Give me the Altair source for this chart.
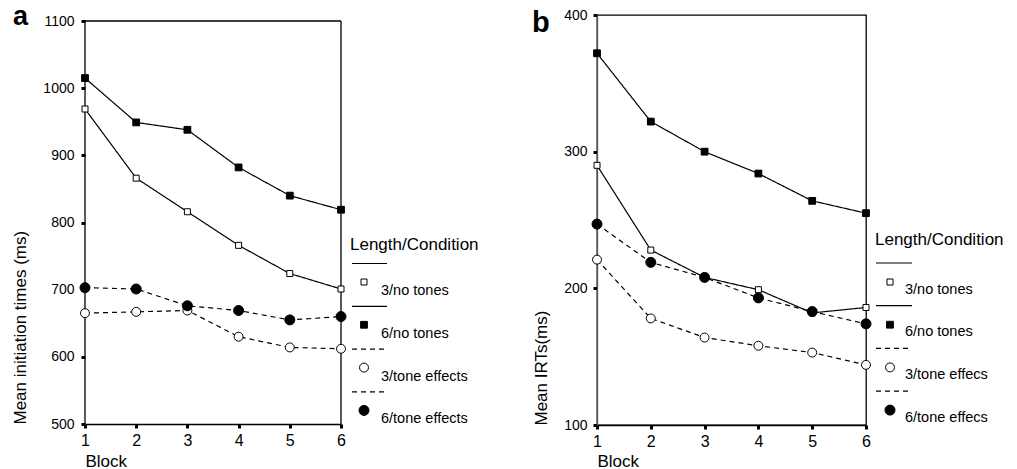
import altair as alt
import pandas as pd

# ---------------- data ----------------
blocks = [1, 2, 3, 4, 5, 6]

labels_a = ["3/no tones", "6/no tones", "3/tone effects", "6/tone effects"]
a_3_no_tones = [969, 866, 816, 766, 724, 701]
a_6_no_tones = [1015, 949, 938, 882, 840, 819]
a_3_tone_effects = [665, 667, 669, 630, 614, 612]
a_6_tone_effects = [703, 701, 676, 669, 655, 660]
ticks_a = [500, 600, 700, 800, 900, 1000, 1100]

labels_b = ["3/no tones", "6/no tones", "3/tone effecs", "6/tone effecs"]
b_3_no_tones = [290, 228, 208, 199, 182, 186]
b_6_no_tones = [372, 322, 300, 284, 264, 255]
b_3_tone_effects = [221, 178, 164, 158, 153, 144]
b_6_tone_effects = [247, 219, 208, 193, 183, 174]
ticks_b = [100, 200, 300, 400]

FONT = "Liberation Sans"
dash_range = [[1, 0], [1, 0], [5, 4], [5, 4]]
shape_range = ["square", "square", "circle", "circle"]
fill_range = ["white", "black", "white", "black"]
size_range = [36, 46, 80, 100]


def long_df(labels, arrays):
    rows = []
    for s, arr in zip(labels, arrays):
        for b, v in zip(blocks, arr):
            rows.append({"block": b, "value": v, "series": s})
    return pd.DataFrame(rows)


def panel(labels, arrays, ticks, ymax_ext, width, height, ytitle, ytitle_x,
          label_pad, x_title_y, letter, letter_x, letter_y, letter_size,
          leg, boxed, domain_color):
    df = long_df(labels, arrays)
    dash = alt.Scale(domain=labels, range=dash_range)
    shape = alt.Scale(domain=labels, range=shape_range)
    fill = alt.Scale(domain=labels, range=fill_range)
    size = alt.Scale(type="ordinal", domain=labels, range=size_range)

    xenc = alt.X(
        "block:Q",
        scale=alt.Scale(domain=[blocks[0], blocks[-1]], nice=False, zero=False),
        axis=alt.Axis(
            values=blocks, format="d", grid=False, labelFlush=False,
            labelFontSize=16, labelPadding=4, labelColor="black", labelFont=FONT,
            tickSize=4, tickWidth=3, tickColor="black",
            domainColor="black", domainWidth=1.3,
            title="Block", titleFont=FONT, titleFontSize=17, titleFontWeight="normal",
            titleColor="black", titleAlign="left", titleBaseline="alphabetic",
            titleX=0, titleY=x_title_y,
        ),
    )
    yenc = alt.Y(
        "value:Q",
        scale=alt.Scale(domain=[ticks[0], ymax_ext], nice=False, zero=False),
        axis=alt.Axis(
            values=ticks, format="d", grid=False, domain=not boxed,
            domainColor=domain_color, domainWidth=1.3,
            labelFontSize=14, labelPadding=label_pad, labelColor="black", labelFont=FONT,
            tickSize=4, tickWidth=3, tickColor="black",
            title=ytitle, titleFont=FONT, titleFontSize=17, titleFontWeight="normal",
            titleColor="black", titleAngle=270, titleAlign="left", titleBaseline="middle",
            titleX=ytitle_x, titleY=height,
        ),
    )

    layers = []
    if boxed:
        border = pd.DataFrame({
            "block": [blocks[0], blocks[-1], blocks[0]],
            "block2": [blocks[0], blocks[-1], blocks[-1]],
            "value": [ticks[0], ticks[0], ticks[-1]],
            "value2": [ticks[-1], ticks[-1], ticks[-1]],
        })
        layers.append(
            alt.Chart(border).mark_rule(color="black", strokeWidth=1.3).encode(
                x=xenc, x2="block2:Q", y=yenc, y2="value2:Q"
            )
        )

    layers.append(
        alt.Chart(df).mark_line(color="black", strokeWidth=1.2).encode(
            x=xenc, y=yenc, detail="series:N",
            strokeDash=alt.StrokeDash("series:N", scale=dash, legend=None),
        )
    )
    layers.append(
        alt.Chart(df).mark_point(filled=True, stroke="black", strokeWidth=1, opacity=1).encode(
            x=xenc, y=yenc,
            shape=alt.Shape("series:N", scale=shape, legend=None),
            fill=alt.Fill("series:N", scale=fill, legend=None),
            size=alt.Size("series:N", scale=size, legend=None),
        )
    )

    # legend (drawn by hand, as in the original figure)
    layers.append(
        alt.Chart(pd.DataFrame({"t": ["Length/Condition"]})).mark_text(
            font=FONT, fontSize=17, align="left", baseline="middle", color="black"
        ).encode(text="t:N", x=alt.value(leg["title_x"]), y=alt.value(leg["title_y"]))
    )
    for i, s in enumerate(labels):
        one = pd.DataFrame({"series": [s]})
        sy = leg["sym_y0"] + i * leg["step"]
        layers.append(
            alt.Chart(one).mark_rule(color="black", strokeWidth=1.2).encode(
                x=alt.value(leg["line_x1"]), x2=alt.value(leg["line_x2"]),
                y=alt.value(sy + leg["line_dy"]),
                strokeDash=alt.StrokeDash("series:N", scale=dash, legend=None),
            )
        )
        layers.append(
            alt.Chart(one).mark_point(filled=True, stroke="black", strokeWidth=1, opacity=1).encode(
                x=alt.value(leg["sym_x"]), y=alt.value(sy),
                shape=alt.Shape("series:N", scale=shape, legend=None),
                fill=alt.Fill("series:N", scale=fill, legend=None),
                size=alt.Size("series:N", scale=size, legend=None),
            )
        )
        layers.append(
            alt.Chart(one).mark_text(
                font=FONT, fontSize=14.5, align="left", baseline="middle", color="black"
            ).encode(text="series:N", x=alt.value(leg["label_x"]), y=alt.value(sy + leg["label_dy"]))
        )

    layers.append(
        alt.Chart(pd.DataFrame({"t": [letter]})).mark_text(
            font=FONT, fontSize=letter_size, fontWeight="bold", align="left",
            baseline="alphabetic", color="black"
        ).encode(text="t:N", x=alt.value(letter_x), y=alt.value(letter_y))
    )

    if boxed:
        view = alt.ViewBackground(stroke="transparent")
    else:
        view = alt.ViewBackground(stroke="black", strokeWidth=1.3)
    return alt.layer(*layers).properties(width=width, height=height, view=view)


# panel a: plot box 1100 -> 500 spans 403 px; view starts 6 px above the box
ha_box = 403
ymax_a = ticks_a[-1] + 6 * (ticks_a[-1] - ticks_a[0]) / ha_box

leg_a = dict(title_x=265, title_y=230, line_x1=267, line_x2=302, line_dy=-18.5,
             sym_x=279, sym_y0=267, step=42.8, label_x=296, label_dy=9)
leg_b = dict(title_x=278, title_y=225, line_x1=279, line_x2=315, line_dy=-19,
             sym_x=293, sym_y0=267, step=42.7, label_x=308, label_dy=7.5)

pa = panel(labels_a, [a_3_no_tones, a_6_no_tones, a_3_tone_effects, a_6_tone_effects],
           ticks_a, ymax_a, 256, 409, "Mean initiation times (ms)", -65, 7, 42,
           "a", -72, 10, 27, leg_a, True, "black")
pb = panel(labels_b, [b_3_no_tones, b_6_no_tones, b_3_tone_effects, b_6_tone_effects],
           ticks_b, ticks_b[-1], 269, 410, "Mean IRTs(ms)", -56, 6, 41,
           "b", -65, 17, 29, leg_b, False, "#555555")

chart = (
    alt.hconcat(pa, pb, spacing=256, bounds="flush")
    .resolve_scale(strokeDash="independent", shape="independent",
                   fill="independent", size="independent")
    .properties(
        autosize=alt.AutoSizeParams(type="none"),
        padding={"left": 85, "top": 15, "right": 932, "bottom": 454},
        background="white",
    )
    .configure(font=FONT)
)

chart.save("out.html", embed_options={"renderer": "svg", "actions": False})
